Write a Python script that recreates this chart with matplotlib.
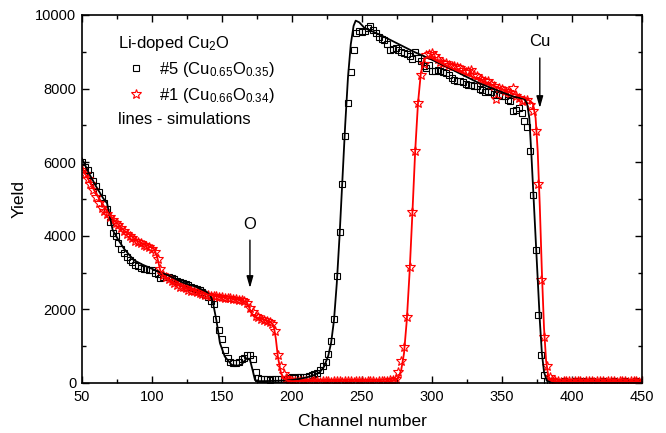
import numpy as np
import matplotlib
matplotlib.use('Agg')
import matplotlib.pyplot as plt
from matplotlib.lines import Line2D
from matplotlib.ticker import MultipleLocator

plt.rcParams['font.family'] = ['Liberation Sans', 'DejaVu Sans']
plt.rcParams['mathtext.fontset'] = 'custom'
plt.rcParams['mathtext.rm'] = 'Liberation Sans'
plt.rcParams['mathtext.it'] = 'Liberation Sans:italic'

# measured spectra, one point every 2 channels from 50 to 450
channels = np.arange(50, 450.1, 2)

yield_5 = [
    6000, 5880, 5780, 5660, 5500, 5340, 5180, 5020, 4880, 4720,
    4380, 4080, 4000, 3800, 3640, 3520, 3430, 3350, 3280, 3210,
    3170, 3130, 3100, 3090, 3070, 3060, 2990, 2950, 2860, 2880,
    2890, 2870, 2850, 2820, 2760, 2740, 2710, 2680, 2650, 2610,
    2590, 2560, 2520, 2480, 2400, 2340, 2230, 2150, 1750, 1450,
    1200, 900, 680, 570, 530, 540, 580, 640, 690, 760,
    760, 640, 300, 130, 100, 100, 110, 90, 100, 110,
    100, 120, 110, 120, 130, 150, 140, 150, 160, 160,
    170, 190, 220, 250, 280, 340, 450, 560, 780, 1150,
    1750, 2900, 4100, 5400, 6700, 7600, 8450, 9050, 9500, 9560,
    9540, 9570, 9650, 9700, 9600, 9500, 9400, 9340, 9320, 9200,
    9050, 9070, 9090, 9050, 9000, 8960, 8930, 8880, 8800, 9000,
    8830, 8750, 8600, 8560, 8640, 8480, 8470, 8500, 8490, 8460,
    8410, 8370, 8280, 8240, 8210, 8200, 8190, 8110, 8100, 8100,
    8070, 8060, 8000, 7960, 7900, 7920, 7900, 7850, 7830, 7830,
    7800, 7790, 7700, 7660, 7380, 7420, 7470, 7330, 7130, 6950,
    6300, 5100, 3600, 1850, 750, 220, 60, 40, 50, 40,
    30, 40, 50, 40, 30, 40, 50, 30, 40, 50,
    40, 30, 50, 40, 30, 40, 50, 40, 30, 40,
    50, 40, 30, 40, 50, 40, 30, 40, 50, 40,
    40,
]

yield_1 = [
    5800, 5680, 5550, 5400, 5230, 5060, 4880, 4760, 4680, 4600,
    4520, 4440, 4360, 4290, 4220, 4140, 4060, 3990, 3930, 3870,
    3830, 3790, 3760, 3730, 3700, 3650, 3570, 3380, 3100, 2930,
    2880, 2820, 2770, 2720, 2670, 2620, 2600, 2570, 2540, 2510,
    2490, 2470, 2440, 2420, 2400, 2390, 2370, 2360, 2350, 2340,
    2330, 2320, 2310, 2300, 2290, 2280, 2260, 2250, 2220, 2170,
    2050, 1920, 1820, 1780, 1750, 1720, 1690, 1650, 1610, 1420,
    750, 450, 250, 130, 80, 60, 50, 40, 50, 60,
    50, 40, 50, 60, 50, 40, 50, 60, 50, 40,
    50, 60, 50, 40, 50, 60, 50, 40, 50, 60,
    50, 40, 50, 60, 50, 40, 50, 60, 50, 60,
    70, 80, 120, 300, 600, 990, 1800, 3150, 4650, 6300,
    7600, 8380, 8660, 8900, 8950, 8960, 8880, 8800, 8730, 8700,
    8690, 8650, 8620, 8600, 8580, 8550, 8500, 8460, 8480, 8510,
    8380, 8330, 8270, 8240, 8210, 8200, 8120, 8080, 7710, 8010,
    7990, 7920, 7900, 7880, 8010, 7790, 7740, 7650, 7680, 7700,
    7560, 7400, 6850, 5400, 2800, 1250, 450, 150, 70, 60,
    50, 40, 50, 60, 50, 40, 50, 60, 50, 40,
    50, 60, 50, 40, 50, 60, 50, 40, 50, 60,
    50, 40, 50, 60, 50, 40, 50, 60, 50, 40,
    50,
]

# simulated spectra (vertices)
sim5_ch = [50, 55, 60, 65, 68, 70, 72, 76, 80, 87, 93, 99, 105, 112, 122, 131,
           139, 142, 143.5, 146, 148.6, 152, 157, 161, 164, 167.6, 170, 171.9,
           173.6, 176, 180, 190, 200, 205, 210, 215, 220, 223, 226, 228, 230,
           232, 234, 236, 238, 240, 242, 244, 245.5, 248, 252, 263, 275, 287,
           299, 311, 323, 334, 346, 358, 366, 368, 369.5, 371, 373, 375, 377,
           378.5, 380, 382, 385, 450]
sim5_y = [6100, 5700, 5350, 5030, 4880, 4500, 4150, 3890, 3650, 3340, 3220,
          3120, 3020, 2920, 2730, 2620, 2480, 2350, 2200, 1710, 1080, 720,
          490, 470, 500, 670, 630, 350, 80, 50, 50, 60, 80, 110, 150, 200,
          300, 450, 750, 1100, 1700, 2700, 4000, 5500, 7000, 8300, 9200,
          9700, 9845, 9800, 9640, 9460, 9230, 9000, 8800, 8580, 8350, 8140,
          7960, 7780, 7720, 7580, 7200, 6200, 4700, 3200, 1700, 800, 300,
          60, 20, 20]

sim1_ch = [50, 60, 70, 80, 90, 100, 102, 104, 106, 108, 115, 125, 135, 145,
           155, 165, 168, 170, 172, 175, 180, 185, 187, 188.5, 190, 192, 194,
           197, 200, 270, 274, 276, 278, 280, 282, 284, 286, 288, 290, 292,
           294, 296, 300, 310, 320, 330, 340, 350, 360, 368, 372, 374, 375.5,
           377, 378.5, 380, 381.5, 383, 385, 388, 450]
sim1_y = [5850, 5150, 4550, 4150, 3850, 3680, 3620, 3380, 3050, 2930, 2740,
          2570, 2450, 2360, 2300, 2240, 2180, 2000, 1850, 1780, 1720, 1650,
          1550, 1200, 700, 300, 120, 60, 50, 50, 80, 150, 350, 800, 1700,
          3000, 4600, 6300, 7600, 8400, 8750, 8850, 8820, 8620, 8450, 8300,
          8150, 7980, 7830, 7720, 7600, 7200, 6300, 4800, 3000, 1500, 600,
          200, 60, 30, 30]

fig = plt.figure(figsize=(6.66, 4.33), dpi=100)
ax = fig.add_axes([0.123, 0.1155, 0.841, 0.85])

# data points
ax.plot(channels, yield_5, ls='none', marker='s', ms=5, mfc='none',
        mec='black', mew=0.8)
ax.plot(channels, yield_1, ls='none', marker='*', ms=7.5, mfc='none',
        mec='red', mew=0.8)

# simulation lines
ax.plot(sim5_ch, sim5_y, color='black', lw=1.3)
ax.plot(sim1_ch, sim1_y, color='red', lw=1.3)

# element markers
arrow = dict(arrowstyle='-|>,head_width=0.2,head_length=0.7', color='black',
             lw=1, shrinkA=0, shrinkB=0)
ax.annotate('', xy=(170, 2580), xytext=(170, 3880), arrowprops=arrow)
ax.text(170, 4300, 'O', ha='center', va='center', fontsize=12)
ax.annotate('', xy=(377, 7470), xytext=(377, 8830), arrowprops=arrow)
ax.text(377, 9270, 'Cu', ha='center', va='center', fontsize=12)

# legend
handles = [
    Line2D([], [], ls='none', marker='s', ms=5, mfc='none', mec='black', mew=0.8),
    Line2D([], [], ls='none', marker='*', ms=7.5, mfc='none', mec='red', mew=0.8),
]
labels = ['#5 (Cu$_{0.65}$O$_{0.35}$)', '#1 (Cu$_{0.66}$O$_{0.34}$)']
leg = ax.legend(handles, labels, title='Li-doped Cu$_2$O', loc='upper left',
                bbox_to_anchor=(0.04, 0.985), frameon=False, fontsize=12,
                title_fontsize=12, alignment='left', handlelength=2.2,
                handletextpad=0.3, labelspacing=0.42, borderpad=0.3)
ax.text(0.064, 0.715, 'lines - simulations', transform=ax.transAxes,
        fontsize=12, ha='left', va='center')

ax.set_xlim(50, 450)
ax.set_ylim(0, 10000)
ax.xaxis.set_major_locator(MultipleLocator(50))
ax.xaxis.set_minor_locator(MultipleLocator(25))
ax.yaxis.set_major_locator(MultipleLocator(2000))
ax.yaxis.set_minor_locator(MultipleLocator(1000))
ax.tick_params(which='both', direction='in', top=True, right=True,
               labelsize=10.5, width=1)
ax.tick_params(which='major', length=5)
ax.tick_params(which='minor', length=3)
ax.tick_params(axis='x', pad=5)
ax.tick_params(axis='y', pad=4)
for s in ax.spines.values():
    s.set_linewidth(1.2)

ax.set_xlabel('Channel number', fontsize=12.5, labelpad=7)
ax.set_ylabel('Yield', fontsize=12.5, labelpad=6)

fig.savefig('out.png', dpi=100)
